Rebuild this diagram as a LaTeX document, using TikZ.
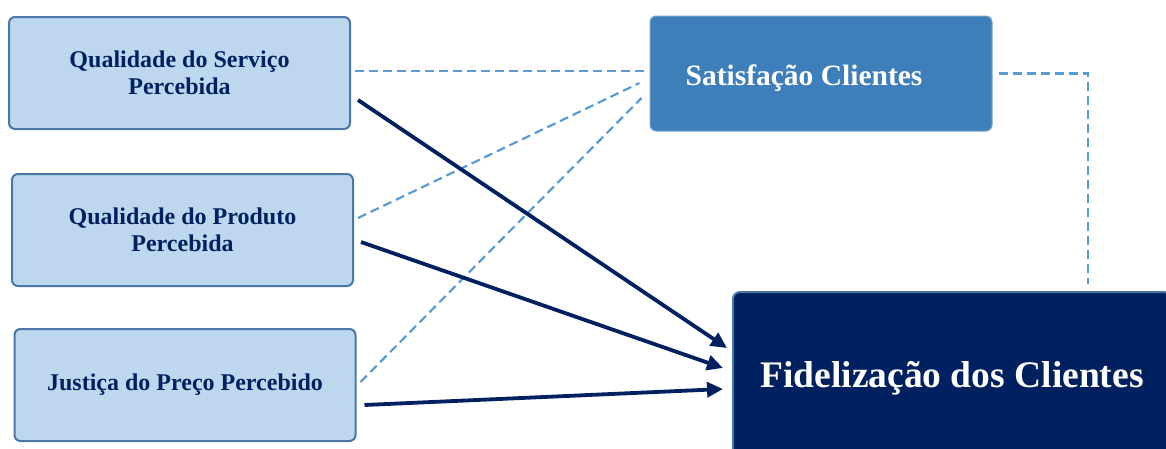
\documentclass[tikz,border=0pt]{standalone}
\usepackage{fontspec}
\setmainfont{Liberation Serif}
\usetikzlibrary{arrows.meta}
\definecolor{navy}{HTML}{002060}
\definecolor{lightblue}{HTML}{BDD7EE}
\definecolor{boxborder}{HTML}{4A76A8}
\definecolor{midblue}{HTML}{3E7EBA}
\definecolor{dashblue}{HTML}{5B9BD5}

\begin{document}
\begin{tikzpicture}[x=1pt,y=-1pt]
    \tikzstyle{factor}=[draw=boxborder, line width=2pt, fill=lightblue, rounded corners=6pt,
        minimum width=341pt, minimum height=112pt, align=center, text=navy,
        font=\fontsize{24}{27}\selectfont\bfseries]
    \tikzstyle{link}=[dashblue, line width=2.2pt, dash pattern=on 9pt off 5pt]
    \tikzstyle{effect}=[navy, line width=3.8pt, -{Triangle[length=16pt,width=15pt]}]
    \clip (0,0) rectangle (1166,448);
    \node[factor] (serv) at (179.5,73) {Qualidade do Serviço\\Percebida};
    \node[factor] (prod) at (182.5,230) {Qualidade do Produto\\Percebida};
    \node[factor] (preco) at (185,385) {Justiça do Preço Percebido};
    \node[fill=midblue, draw=midblue!70!white, line width=1pt, rounded corners=6pt,
        minimum width=342pt, minimum height=115pt, text=white,
        font=\fontsize{29.5}{33}\selectfont\bfseries] (sat) at (821,73.5)
        {\raisebox{-5pt}[\height][\depth]{Satisfação Clientes}\hspace*{34pt}};
    \node[fill=navy, draw=boxborder, line width=2pt, rounded corners=7pt,
        minimum width=438pt, minimum height=172pt, text=white,
        font=\fontsize{37.5}{42}\selectfont\bfseries] (fid) at (952,378) {Fidelização dos Clientes};
    \draw[link] ([xshift=4pt,yshift=2pt]serv.east) -- ([xshift=-5pt,yshift=2.5pt]sat.west);
    \draw[link] ([xshift=4pt,yshift=12pt]prod.east) -- ([xshift=-10pt,yshift=-9.5pt]sat.west);
    \draw[link] ([xshift=4pt,yshift=3pt]preco.east) -- ([xshift=-8pt,yshift=-24.5pt]sat.west);
    \draw[link] ([xshift=6pt]sat.east) -| ([xshift=136pt,yshift=7pt]fid.north);
    \draw[effect] ([xshift=7pt,yshift=-27pt]serv.east) -- ([xshift=-5pt,yshift=30pt]fid.west);
    \draw[effect] ([xshift=7pt,yshift=-12pt]prod.east) -- ([xshift=-9pt,yshift=10pt]fid.west);
    \draw[effect] ([xshift=8pt,yshift=-20pt]preco.east) -- ([xshift=-9pt,yshift=-11pt]fid.west);
\end{tikzpicture}
\end{document}
